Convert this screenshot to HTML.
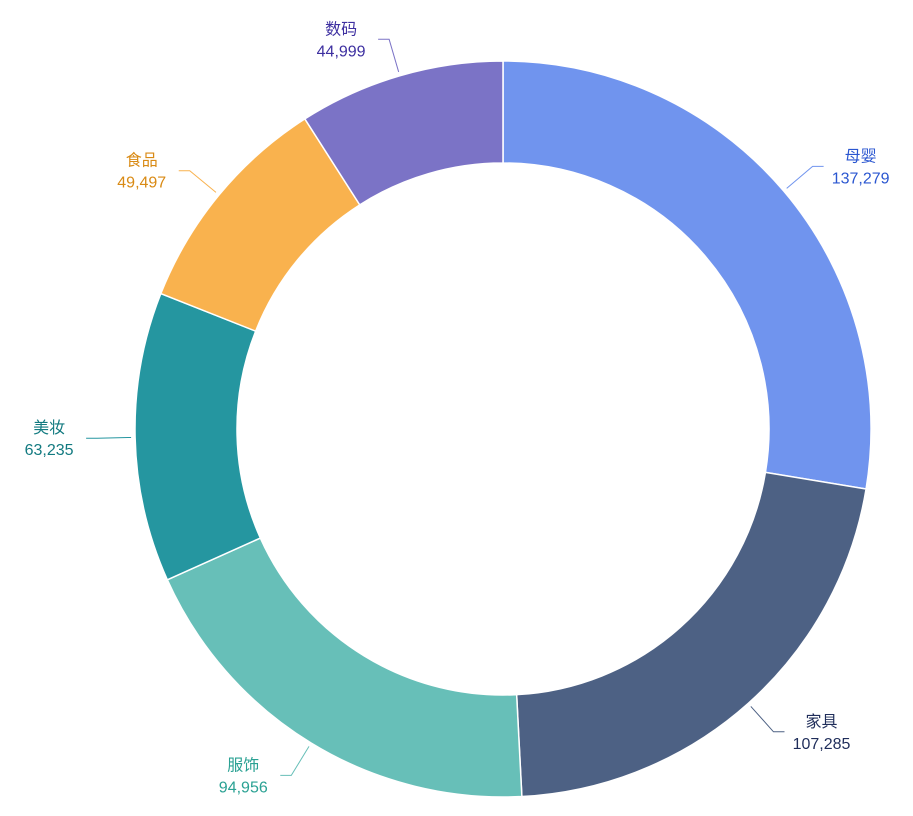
<!DOCTYPE html>
<html><head><meta charset="utf-8">
<style>
body{margin:0;background:#fff;}
svg{display:block;font-family:"Liberation Sans","Noto Sans CJK SC",sans-serif;}
</style></head>
<body>
<svg id="chart" width="913" height="816" viewBox="0 0 913 816"></svg>
<script>
const categories = ["母婴","家具","服饰","美妆","食品","数码"];
const values = [137279,107285,94956,63235,49497,44999];
const labels = ["137,279","107,285","94,956","63,235","49,497","44,999"];
const colors = ["#7094ee","#4d6184","#67bfb8","#2596a0","#f9b24e","#7b73c6"];
const textColors = ["#2a56d0","#1f2d5a","#2aa193","#127a80","#d98a14","#3d2fa0"];
const cx=503, cy=429, R=368, r=266;
const svg=document.getElementById('chart');
const NS="http://www.w3.org/2000/svg";
const total=values.reduce((a,b)=>a+b,0);
function pt(a,rad){return [cx+rad*Math.sin(a), cy-rad*Math.cos(a)];}
let acc=0;
values.forEach((v,i)=>{
  const a0=acc/total*2*Math.PI; acc+=v; const a1=acc/total*2*Math.PI;
  const large=(a1-a0)>Math.PI?1:0;
  const p0=pt(a0,R),p1=pt(a1,R),q1=pt(a1,r),q0=pt(a0,r);
  const path=document.createElementNS(NS,'path');
  path.setAttribute('d',`M${p0[0]},${p0[1]}A${R},${R} 0 ${large} 1 ${p1[0]},${p1[1]}L${q1[0]},${q1[1]}A${r},${r} 0 ${large} 0 ${q0[0]},${q0[1]}Z`);
  path.setAttribute('fill',colors[i]);
  path.setAttribute('stroke','#fff');
  path.setAttribute('stroke-width','1.5');
  
  
  svg.appendChild(path);
  const am=(a0+a1)/2;
  const s=pt(am,R+4), e=pt(am,R+38);
  const right=Math.sin(am)>=0;
  const hx=e[0]+(right?11:-11);
  const line=document.createElementNS(NS,'polyline');
  line.setAttribute('points',`${s[0]},${s[1]} ${e[0]},${e[1]} ${hx},${e[1]}`);
  line.setAttribute('fill','none');
  line.setAttribute('stroke',colors[i]);
  line.setAttribute('stroke-width','1');
  
  
  svg.appendChild(line);
  const tx=hx+(right?37:-37);
  const t1=document.createElementNS(NS,'text');
  t1.setAttribute('x',tx); t1.setAttribute('y',e[1]-5);
  t1.setAttribute('text-anchor','middle'); t1.setAttribute('font-size','16');
  t1.setAttribute('fill',textColors[i]);
  
  
  t1.textContent=categories[i];
  svg.appendChild(t1);
  const t2=document.createElementNS(NS,'text');
  t2.setAttribute('x',tx); t2.setAttribute('y',e[1]+17);
  t2.setAttribute('text-anchor','middle'); t2.setAttribute('font-size','16');
  t2.setAttribute('fill',textColors[i]);
  
  
  t2.textContent=labels[i];
  svg.appendChild(t2);
});
</script>
</body></html>
